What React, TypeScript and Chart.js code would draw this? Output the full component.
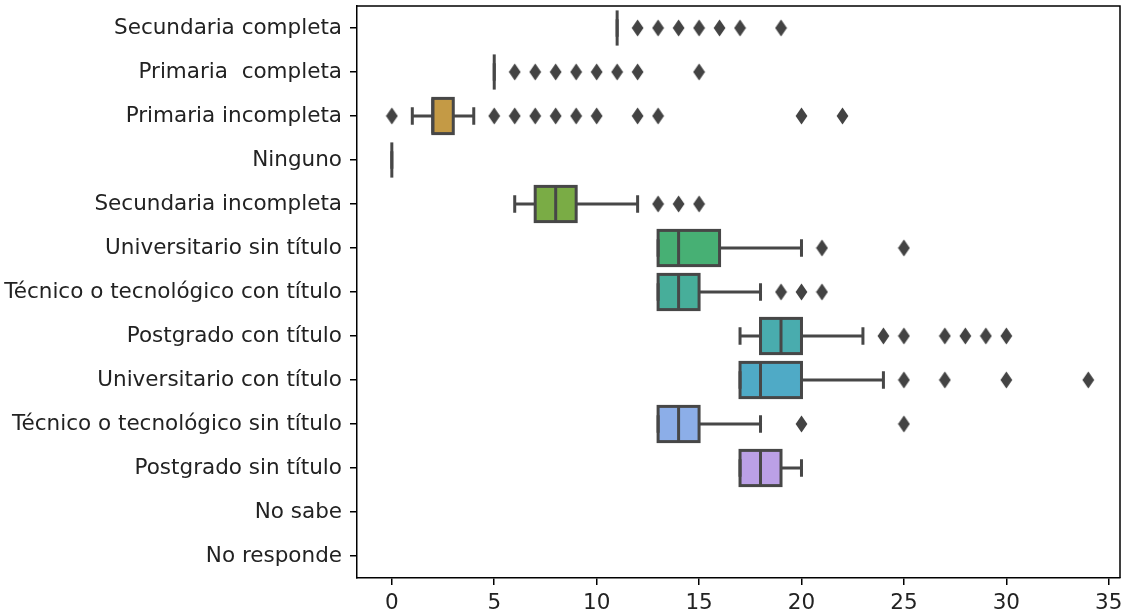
import React, { useEffect, useRef } from 'react';
import { Chart, registerables } from 'chart.js';

Chart.register(...registerables);

const categories = [
  'Secundaria completa',
  'Primaria  completa',
  'Primaria incompleta',
  'Ninguno',
  'Secundaria incompleta',
  'Universitario sin título',
  'Técnico o tecnológico con título',
  'Postgrado con título',
  'Universitario con título',
  'Técnico o tecnológico sin título',
  'Postgrado sin título',
  'No sabe',
  'No responde',
];

const q1Values = [11, 5, 2, 0, 7, 13, 13, 18, 17, 13, 17, null, null];
const medianValues = [11, 5, 2, 0, 8, 14, 14, 19, 18, 14, 18, null, null];
const q3Values = [11, 5, 3, 0, 9, 16, 15, 20, 20, 15, 19, null, null];
const whiskerLowValues = [11, 5, 1, 0, 6, 13, 13, 17, 17, 13, 17, null, null];
const whiskerHighValues = [11, 5, 4, 0, 12, 20, 18, 23, 24, 18, 20, null, null];
const outlierValues: number[][] = [
  [12, 13, 14, 15, 16, 17, 19],
  [6, 7, 8, 9, 10, 11, 12, 15],
  [0, 5, 6, 7, 8, 9, 10, 12, 13, 20, 22],
  [],
  [13, 14, 15],
  [21, 25],
  [19, 20, 21],
  [24, 25, 27, 28, 29, 30],
  [25, 27, 30, 34],
  [20, 25],
  [],
  [],
  [],
];

const boxColors = [
  '#e0868f', '#d3914f', '#c49a45', '#a2a545', '#7aac45', '#47b074', '#47ae9a',
  '#49acae', '#4faac6', '#8caee8', '#bba0e6', '#df8fd0', '#e58aa8',
];

const xTicks = [0, 5, 10, 15, 20, 25, 30, 35];

const LINE = '#474747';
const FONT_SIZE = 21.5;

export default function App() {
  const ref = useRef<HTMLCanvasElement | null>(null);

  useEffect(() => {
    if (!ref.current) return;

    const marker = document.createElement('canvas');
    marker.width = 13;
    marker.height = 18;
    const g = marker.getContext('2d')!;
    g.fillStyle = '#434343';
    g.beginPath();
    g.moveTo(6.5, 0.5);
    g.lineTo(12.4, 9);
    g.lineTo(6.5, 17.5);
    g.lineTo(0.6, 9);
    g.closePath();
    g.fill();

    const boxPlugin = {
      id: 'boxParts',
      afterDatasetsDraw(chart: any) {
        const ctx = chart.ctx;
        const xs = chart.scales.x;
        const ys = chart.scales.y;
        const step = ys.getPixelForValue(1) - ys.getPixelForValue(0);
        const half = Math.abs(step) * 0.4;
        ctx.save();
        ctx.strokeStyle = LINE;
        ctx.lineWidth = 3;
        ctx.lineCap = 'butt';
        categories.forEach((_, i) => {
          const a = q1Values[i];
          if (a == null) return;
          const y = ys.getPixelForValue(i);
          const pq1 = xs.getPixelForValue(a);
          const pq3 = xs.getPixelForValue(q3Values[i] as number);
          const pmed = xs.getPixelForValue(medianValues[i] as number);
          const plo = xs.getPixelForValue(whiskerLowValues[i] as number);
          const phi = xs.getPixelForValue(whiskerHighValues[i] as number);
          ctx.beginPath();
          ctx.moveTo(plo, y);
          ctx.lineTo(pq1, y);
          ctx.moveTo(pq3, y);
          ctx.lineTo(phi, y);
          ctx.moveTo(plo, y - half / 2);
          ctx.lineTo(plo, y + half / 2);
          ctx.moveTo(phi, y - half / 2);
          ctx.lineTo(phi, y + half / 2);
          ctx.stroke();
          if (pq3 > pq1) {
            ctx.strokeRect(pq1, y - half, pq3 - pq1, 2 * half);
          }
          ctx.beginPath();
          ctx.moveTo(pmed, y - half);
          ctx.lineTo(pmed, y + half);
          ctx.stroke();
        });
        ctx.restore();
      },
      afterDraw(chart: any) {
        const { ctx, chartArea } = chart;
        ctx.save();
        ctx.strokeStyle = '#000';
        ctx.lineWidth = 1.5;
        ctx.beginPath();
        ctx.moveTo(chartArea.left, chartArea.top);
        ctx.lineTo(chartArea.right, chartArea.top);
        ctx.lineTo(chartArea.right, chartArea.bottom);
        ctx.stroke();
        ctx.restore();
      },
    };

    const outlierPoints: { x: number; y: string }[] = [];
    outlierValues.forEach((vals, i) =>
      vals.forEach((v) => outlierPoints.push({ x: v, y: categories[i] }))
    );

    const chart = new Chart(ref.current, {
      type: 'bar',
      data: {
        labels: categories,
        datasets: [
          {
            type: 'bar',
            data: categories.map((_, i) =>
              q1Values[i] == null ? null : [q1Values[i], q3Values[i]]
            ) as any,
            backgroundColor: boxColors,
            borderWidth: 0,
            barPercentage: 0.8,
            categoryPercentage: 1,
          } as any,
          {
            type: 'scatter',
            data: outlierPoints as any,
            pointStyle: marker as any,
            pointRadius: 6,
            backgroundColor: '#434343',
          } as any,
        ],
      },
      options: {
        indexAxis: 'y',
        responsive: false,
        animation: false,
        layout: { autoPadding: false, padding: { top: 6, right: 2, left: 0, bottom: 0 } },
        plugins: { legend: { display: false }, tooltip: { enabled: false } },
        scales: {
          x: {
            type: 'linear',
            min: -1.7,
            max: 35.55,
            afterBuildTicks: (scale: any) => {
              scale.ticks = xTicks.map((v) => ({ value: v }));
            },
            afterFit: (scale: any) => {
              scale.height = 36;
              scale.paddingLeft = 0;
              scale.paddingRight = 0;
            },
            grid: {
              drawOnChartArea: false,
              drawTicks: true,
              tickLength: 7,
              color: '#000',
              lineWidth: 1.5,
            },
            border: { display: true, color: '#000', width: 1.5 },
            ticks: {
              padding: 6,
              color: '#222',
              font: { family: 'DejaVu Sans', size: FONT_SIZE },
              maxRotation: 0,
            },
          },
          y: {
            type: 'category',
            offset: true,
            afterFit: (scale: any) => {
              scale.width = 357;
              scale.paddingTop = 0;
              scale.paddingBottom = 0;
            },
            grid: {
              drawOnChartArea: false,
              drawTicks: true,
              tickLength: 7,
              color: '#000',
              lineWidth: 1.5,
              offset: false,
            },
            border: { display: true, color: '#000', width: 1.5 },
            ticks: {
              padding: 8,
              color: '#222',
              font: { family: 'DejaVu Sans', size: FONT_SIZE },
              autoSkip: false,
            },
          },
        },
      } as any,
      plugins: [boxPlugin],
    });

    return () => chart.destroy();
  }, []);

  return (
    <div style={{ position: 'absolute', left: 0, top: 0, width: 1122, height: 614, background: '#fff' }}>
      <canvas ref={ref} width={1122} height={614} />
    </div>
  );
}
